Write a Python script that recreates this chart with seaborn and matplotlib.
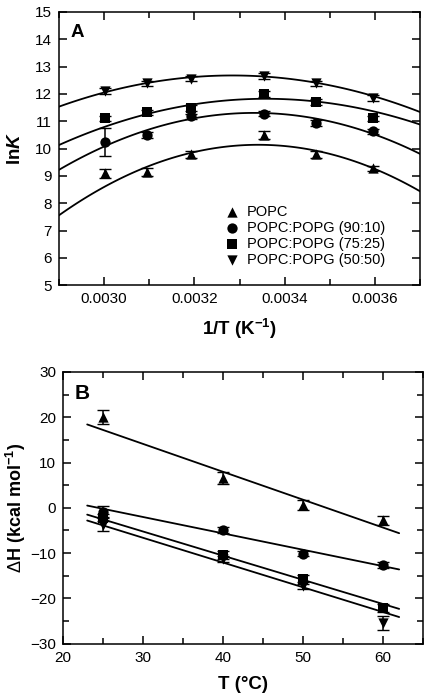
import numpy as np
import pandas as pd
import matplotlib
matplotlib.use("Agg")
import matplotlib.pyplot as plt
import seaborn as sns
from matplotlib.ticker import MultipleLocator, FormatStrFormatter

sns.set_style("ticks", {'axes.edgecolor': 'black', 'xtick.color': 'black',
                        'ytick.color': 'black', 'text.color': 'black',
                        'axes.labelcolor': 'black'})
plt.rcParams['font.family'] = ['Liberation Sans', 'DejaVu Sans']
plt.rcParams['mathtext.fontset'] = 'custom'
plt.rcParams['mathtext.rm'] = 'Liberation Sans'
plt.rcParams['mathtext.it'] = 'Liberation Sans:italic'
plt.rcParams['mathtext.bf'] = 'Liberation Sans:bold'
plt.rcParams['mathtext.bfit'] = 'Liberation Sans:bold:italic'

# Panel A: van't Hoff data
inv_T = [0.003002, 0.003095, 0.003193, 0.003354, 0.003470, 0.003595]
lnK_popc = [9.09, 9.13, 9.79, 10.49, 9.79, 9.27]
lnK_90 = [10.24, 10.49, 11.18, 11.28, 10.94, 10.63]
lnK_75 = [11.10, 11.32, 11.49, 11.99, 11.71, 11.10]
lnK_50 = [12.11, 12.38, 12.56, 12.65, 12.38, 11.85]
err_popc = [0.15, 0.15, 0.12, 0.15, 0.12, 0.1]
err_90 = [0.5, 0.1, 0.1, 0.1, 0.1, 0.1]
err_75 = [0.1, 0.1, 0.1, 0.1, 0.1, 0.1]
err_50 = [0.1, 0.1, 0.1, 0.12, 0.1, 0.1]

# fitted curves in panel A, sampled off the figure
curve_x = [0.0029, 0.0030, 0.0031, 0.0032, 0.0033, 0.0034, 0.0035, 0.0036, 0.0037]
curve_popc = [7.56, 8.57, 9.37, 9.88, 10.16, 10.10, 9.72, 9.27, 8.45]
curve_90 = [9.21, 10.06, 10.73, 11.13, 11.28, 11.24, 10.98, 10.50, 9.82]
curve_75 = [10.15, 10.75, 11.28, 11.63, 11.80, 11.82, 11.66, 11.32, 10.89]
curve_50 = [11.50, 12.11, 12.40, 12.60, 12.66, 12.58, 12.32, 11.89, 11.34]

# Panel B: enthalpy vs temperature
T_C = [25, 40, 50, 60]
dH_popc = [20.0, 6.5, 0.6, -2.7]
dH_90 = [-0.9, -4.9, -10.1, -12.6]
dH_75 = [-2.2, -10.4, -15.6, -22.1]
dH_50 = [-3.7, -11.3, -17.3, -25.4]
errB_popc = [1.6, 1.3, 1.1, 1.0]
errB_90 = [1.2, 0.6, 0.6, 0.6]
errB_75 = [0.8, 0.8, 0.8, 0.8]
errB_50 = [1.5, 0.6, 0.6, 1.5]

# fitted lines in panel B
fit_T = [23, 62]
fit_popc = [18.4, -5.6]
fit_90 = [0.5, -13.6]
fit_75 = [-1.5, -22.3]
fit_50 = [-2.8, -24.1]

labels = ['POPC', 'POPC:POPG (90:10)', 'POPC:POPG (75:25)', 'POPC:POPG (50:50)']
markers = ['^', 'o', 's', 'v']

fig = plt.figure(figsize=(4.27, 6.99), dpi=100)
axA = fig.add_axes([0.138, 0.592, 0.846, 0.391])
axB = fig.add_axes([0.148, 0.079, 0.843, 0.389])

def style_axes(ax):
    for s in ax.spines.values():
        s.set_linewidth(1.1)
        s.set_visible(True)
    ax.tick_params(which='both', direction='in', top=True, right=True,
                   width=1.1, labelsize=11, pad=5)
    ax.tick_params(which='major', length=6)
    ax.tick_params(which='minor', length=4)

# ---- Panel A
axA.set_xlim(0.0029, 0.0037)
axA.set_ylim(5, 15)
seriesA = [lnK_popc, lnK_90, lnK_75, lnK_50]
errsA = [err_popc, err_90, err_75, err_50]
curvesA = [curve_popc, curve_90, curve_75, curve_50]
for ys, es, cv, m, lab in zip(seriesA, errsA, curvesA, markers, labels):
    sns.regplot(x=curve_x, y=cv, order=2, ci=None, scatter=False, truncate=False,
                color='black', line_kws={'lw': 1.3}, ax=axA)
    axA.errorbar(inv_T, ys, yerr=es, fmt='none', ecolor='black', elinewidth=1.1, capsize=4)
    sns.scatterplot(x=inv_T, y=ys, marker=m, color='black', s=55, edgecolor='black',
                    linewidth=0, label=lab, ax=axA, zorder=5)
axA.set_xlim(0.0029, 0.0037)
axA.xaxis.set_major_locator(MultipleLocator(0.0002))
axA.xaxis.set_minor_locator(MultipleLocator(0.0001))
axA.xaxis.set_major_formatter(FormatStrFormatter('%.4f'))
axA.yaxis.set_major_locator(MultipleLocator(1))
style_axes(axA)
axA.set_xlabel(r'1/T (K$^{\mathbf{-1}}$)', fontsize=13.5, fontweight='bold', labelpad=8)
axA.set_ylabel(r'ln$\mathbfit{K}$', fontsize=13.5, fontweight='bold', labelpad=8)
axA.text(0.032, 0.955, 'A', transform=axA.transAxes, fontsize=13.5, fontweight='bold', va='top')
axA.legend(loc='upper left', bbox_to_anchor=(0.459, 0.295), frameon=False, fontsize=10.5,
           handlelength=1.0, handletextpad=0.5, labelspacing=0.15, borderaxespad=0,
           borderpad=0)

# ---- Panel B
seriesB = [dH_popc, dH_90, dH_75, dH_50]
errsB = [errB_popc, errB_90, errB_75, errB_50]
fitsB = [fit_popc, fit_90, fit_75, fit_50]
for ys, es, fy, m in zip(seriesB, errsB, fitsB, markers):
    sns.lineplot(x=fit_T, y=fy, color='black', lw=1.3, ax=axB)
    axB.errorbar(T_C, ys, yerr=es, fmt='none', ecolor='black', elinewidth=1.1, capsize=4)
    sns.scatterplot(x=T_C, y=ys, marker=m, color='black', s=55, edgecolor='black',
                    linewidth=0, ax=axB, zorder=5)
axB.set_xlim(20, 65)
axB.set_ylim(-30, 30)
axB.xaxis.set_major_locator(MultipleLocator(10))
axB.xaxis.set_minor_locator(MultipleLocator(5))
axB.yaxis.set_major_locator(MultipleLocator(10))
axB.yaxis.set_minor_locator(MultipleLocator(5))
style_axes(axB)
axB.set_xlabel('T (°C)', fontsize=13.5, fontweight='bold', labelpad=8)
axB.set_ylabel(r'$\Delta$H (kcal mol$^{\mathbf{-1}}$)', fontsize=13, fontweight='bold', labelpad=2)
axB.text(0.032, 0.955, 'B', transform=axB.transAxes, fontsize=15, fontweight='bold', va='top')

fig.savefig('out.png', dpi=100)
